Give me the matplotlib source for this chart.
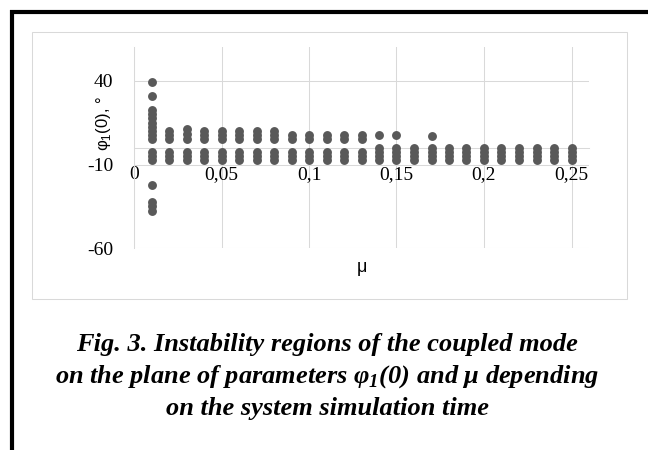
import matplotlib

matplotlib.use("Agg")

import matplotlib.pyplot as plt
from matplotlib.lines import Line2D
from matplotlib.patches import Rectangle

# mu values of the simulated columns
MU = [0.01, 0.02, 0.03, 0.04, 0.05, 0.06, 0.07, 0.08, 0.09, 0.10, 0.11, 0.12, 0.13,
      0.14, 0.15, 0.16, 0.17, 0.18, 0.19, 0.20, 0.21, 0.22, 0.23, 0.24, 0.25]

# unstable phi1(0) values above the stable band, one list per mu
PHI_UPPER = [
    [39, 31, 22.5, 20, 17.5, 15, 12.5, 10, 7.5, 5],
    [10, 7.5, 5],
    [11, 8, 5],
    [10, 7.5, 5],
    [10, 7.5, 5],
    [10, 7.5, 5],
    [10, 7.5, 5],
    [10, 7.5, 5],
    [7.5, 5],
    [7.5, 5],
    [7.5, 5],
    [7.5, 5],
    [7.5, 5],
    [7.5],
    [7.5],
    [],
    [7],
    [], [], [], [], [], [], [], [],
]

# unstable phi1(0) values at and below zero, one list per mu
PHI_LOWER = [
    [-2.5, -5, -7.5, -22.5, -32.5, -35, -37.5],
    [-2.5, -5, -7.5], [-2.5, -5, -7.5], [-2.5, -5, -7.5], [-2.5, -5, -7.5],
    [-2.5, -5, -7.5], [-2.5, -5, -7.5], [-2.5, -5, -7.5], [-2.5, -5, -7.5],
    [-2.5, -5, -7.5], [-2.5, -5, -7.5], [-2.5, -5, -7.5], [-2.5, -5, -7.5],
    [0, -2.5, -5, -7.5], [0, -2.5, -5, -7.5], [0, -2.5, -5, -7.5],
    [0, -2.5, -5, -7.5], [0, -2.5, -5, -7.5], [0, -2.5, -5, -7.5],
    [0, -2.5, -5, -7.5], [0, -2.5, -5, -7.5], [0, -2.5, -5, -7.5],
    [0, -2.5, -5, -7.5], [0, -2.5, -5, -7.5], [0, -2.5, -5, -7.5],
]

X_TICKS = [0, 0.05, 0.10, 0.15, 0.20, 0.25]
X_LABELS = ["0", "0,05", "0,1", "0,15", "0,2", "0,25"]
Y_TICKS = [-60, -10, 40]
Y_LABELS = ["-60", "-10", "40"]

CAPTION = [
    "Fig. 3. Instability regions of the coupled mode",
    r"on the plane of parameters φ$_\mathregular{1}$(0) and μ depending",
    "on the system simulation time",
]

W, H = 648, 450
GRID = "#d9d9d9"
DOT = "#595959"
SERIF = "Liberation Serif"
SANS = "Liberation Sans"


def px(x, y):
    # pixel position from the top-left corner -> figure fraction
    return x / W, 1 - y / H


def main():
    fig = plt.figure(figsize=(W / 100, H / 100), dpi=100)
    fig.patch.set_facecolor("white")

    # plot area: mu 0..0.26 spans x 134..589 px, phi -60..60 spans y 248..47 px
    left, bottom = px(134, 248.3)
    right, top = px(589, 47.2)
    ax = fig.add_axes([left, bottom, right - left, top - bottom])

    xs, ys = [], []
    for mu, upper, lower in zip(MU, PHI_UPPER, PHI_LOWER):
        for phi in upper + lower:
            xs.append(mu)
            ys.append(phi)
    ax.plot(xs, ys, linestyle="none", marker="o", markersize=6.4,
            color=DOT, markeredgewidth=0, zorder=3)

    ax.set_xlim(0, 0.26)
    ax.set_ylim(-60, 60)

    for side in ("top", "right"):
        ax.spines[side].set_visible(False)
    ax.spines["left"].set_color(GRID)
    ax.spines["left"].set_linewidth(0.75)
    ax.spines["bottom"].set_position(("data", 0))
    ax.spines["bottom"].set_color(GRID)
    ax.spines["bottom"].set_linewidth(0.75)

    ax.set_xticks(X_TICKS)
    ax.set_xticklabels(X_LABELS)
    ax.set_yticks(Y_TICKS)
    ax.set_yticklabels(Y_LABELS)
    ax.tick_params(length=0, labelsize=14)
    ax.tick_params(axis="x", pad=13)
    ax.tick_params(axis="y", pad=15)
    for lab in ax.get_xticklabels() + ax.get_yticklabels():
        lab.set_fontfamily(SERIF)
    ax.grid(True, color=GRID, linewidth=0.75, zorder=0)
    ax.set_axisbelow(True)

    fig.text(*px(362, 268), "μ", ha="center", va="center",
             fontsize=13, family=SANS)
    fig.text(*px(103, 123), r"φ$_\mathregular{1}$(0), °", ha="center",
             va="center", rotation=90, fontsize=12, family=SANS)

    # chart area outline
    x0, y0 = px(32, 298.5)
    x1, y1 = px(627, 32)
    fig.add_artist(Rectangle((x0, y0), x1 - x0, y1 - y0, transform=fig.transFigure,
                             facecolor="none", edgecolor=GRID, linewidth=0.75))

    # black page frame, top and left edges
    fig.add_artist(Line2D([10 / W, 1], [1 - 12 / H] * 2, transform=fig.transFigure,
                          color="black", linewidth=3.0, solid_capstyle="butt"))
    fig.add_artist(Line2D([12 / W] * 2, [1 - 10 / H, 0], transform=fig.transFigure,
                          color="black", linewidth=3.0, solid_capstyle="butt"))

    for line, y in zip(CAPTION, (345, 377, 408)):
        fig.text(*px(327, y), line, ha="center", va="center", fontsize=19,
                 family=SERIF, fontweight="bold", fontstyle="italic")

    fig.savefig("out.png", dpi=100, facecolor="white")
    plt.close(fig)


if __name__ == "__main__":
    main()
